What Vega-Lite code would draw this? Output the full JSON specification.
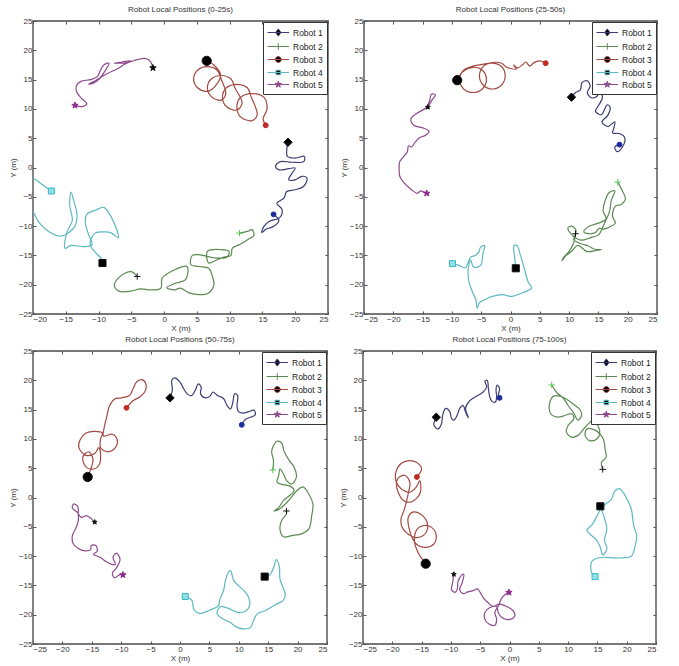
{
"$schema": "https://vega.github.io/schema/vega-lite/v6.json",
"padding": {"left": 8, "top": 5, "right": 2, "bottom": 0},
"datasets": {
"paths": [
{"p":1,"r":1,"i":1,"x":16.7,"y":-8.0},{"p":1,"r":1,"i":2,"x":17.5,"y":-9.0},{"p":1,"r":1,"i":3,"x":16.8,"y":-10.0},{"p":1,"r":1,"i":4,"x":15.6,"y":-10.5},{"p":1,"r":1,"i":5,"x":14.9,"y":-11.1},{"p":1,"r":1,"i":6,"x":15.2,"y":-10.1},{"p":1,"r":1,"i":7,"x":16.0,"y":-9.2},{"p":1,"r":1,"i":8,"x":17.6,"y":-8.6},{"p":1,"r":1,"i":9,"x":18.0,"y":-7.2},{"p":1,"r":1,"i":10,"x":17.2,"y":-6.1},{"p":1,"r":1,"i":11,"x":18.3,"y":-5.2},{"p":1,"r":1,"i":12,"x":18.7,"y":-4.1},{"p":1,"r":1,"i":13,"x":20.0,"y":-3.8},{"p":1,"r":1,"i":14,"x":21.3,"y":-3.2},{"p":1,"r":1,"i":15,"x":21.8,"y":-1.8},{"p":1,"r":1,"i":16,"x":21.0,"y":-1.5},{"p":1,"r":1,"i":17,"x":20.0,"y":-2.1},{"p":1,"r":1,"i":18,"x":19.0,"y":-2.1},{"p":1,"r":1,"i":19,"x":19.5,"y":-1.0},{"p":1,"r":1,"i":20,"x":20.0,"y":-0.1},{"p":1,"r":1,"i":21,"x":19.0,"y":-0.2},{"p":1,"r":1,"i":22,"x":17.5,"y":-0.4},{"p":1,"r":1,"i":23,"x":17.0,"y":0.2},{"p":1,"r":1,"i":24,"x":17.7,"y":1.0},{"p":1,"r":1,"i":25,"x":19.5,"y":0.9},{"p":1,"r":1,"i":26,"x":21.3,"y":1.0},{"p":1,"r":1,"i":27,"x":21.4,"y":1.9},{"p":1,"r":1,"i":28,"x":20.0,"y":1.6},{"p":1,"r":1,"i":29,"x":18.8,"y":1.9},{"p":1,"r":1,"i":30,"x":18.7,"y":3.0},{"p":1,"r":1,"i":31,"x":18.9,"y":4.3},
{"p":1,"r":2,"i":1,"x":11.5,"y":-11.2},{"p":1,"r":2,"i":2,"x":12.7,"y":-10.9},{"p":1,"r":2,"i":3,"x":13.4,"y":-10.6},{"p":1,"r":2,"i":4,"x":13.7,"y":-11.6},{"p":1,"r":2,"i":5,"x":12.9,"y":-12.2},{"p":1,"r":2,"i":6,"x":11.6,"y":-13.1},{"p":1,"r":2,"i":7,"x":10.4,"y":-13.8},{"p":1,"r":2,"i":8,"x":10.2,"y":-15.0},{"p":1,"r":2,"i":9,"x":9.1,"y":-15.3},{"p":1,"r":2,"i":10,"x":7.6,"y":-16.0},{"p":1,"r":2,"i":11,"x":6.8,"y":-16.3},{"p":1,"r":2,"i":12,"x":6.6,"y":-14.3},{"p":1,"r":2,"i":13,"x":8.6,"y":-14.0},{"p":1,"r":2,"i":14,"x":9.9,"y":-14.3},{"p":1,"r":2,"i":15,"x":9.6,"y":-15.3},{"p":1,"r":2,"i":16,"x":7.5,"y":-15.4},{"p":1,"r":2,"i":17,"x":5.5,"y":-14.9},{"p":1,"r":2,"i":18,"x":4.3,"y":-15.0},{"p":1,"r":2,"i":19,"x":4.1,"y":-16.6},{"p":1,"r":2,"i":20,"x":5.3,"y":-16.9},{"p":1,"r":2,"i":21,"x":6.8,"y":-17.2},{"p":1,"r":2,"i":22,"x":7.3,"y":-18.3},{"p":1,"r":2,"i":23,"x":7.6,"y":-20.0},{"p":1,"r":2,"i":24,"x":6.8,"y":-21.4},{"p":1,"r":2,"i":25,"x":5.3,"y":-21.7},{"p":1,"r":2,"i":26,"x":3.8,"y":-21.4},{"p":1,"r":2,"i":27,"x":2.5,"y":-20.6},{"p":1,"r":2,"i":28,"x":1.5,"y":-20.9},{"p":1,"r":2,"i":29,"x":0.4,"y":-20.5},{"p":1,"r":2,"i":30,"x":1.6,"y":-19.8},{"p":1,"r":2,"i":31,"x":3.3,"y":-19.1},{"p":1,"r":2,"i":32,"x":3.5,"y":-16.9},{"p":1,"r":2,"i":33,"x":1.7,"y":-17.4},{"p":1,"r":2,"i":34,"x":-0.3,"y":-18.9},{"p":1,"r":2,"i":35,"x":-0.5,"y":-20.6},{"p":1,"r":2,"i":36,"x":-2.1,"y":-20.9},{"p":1,"r":2,"i":37,"x":-3.6,"y":-20.7},{"p":1,"r":2,"i":38,"x":-5.1,"y":-21.1},{"p":1,"r":2,"i":39,"x":-6.9,"y":-21.1},{"p":1,"r":2,"i":40,"x":-7.6,"y":-20.1},{"p":1,"r":2,"i":41,"x":-7.1,"y":-19.0},{"p":1,"r":2,"i":42,"x":-5.9,"y":-18.0},{"p":1,"r":2,"i":43,"x":-4.9,"y":-17.8},{"p":1,"r":2,"i":44,"x":-4.1,"y":-18.6},
{"p":1,"r":3,"i":1,"x":15.5,"y":7.2},{"p":1,"r":3,"i":2,"x":15.1,"y":8.3},{"p":1,"r":3,"i":3,"x":15.7,"y":10.0},{"p":1,"r":3,"i":4,"x":15.2,"y":12.0},{"p":1,"r":3,"i":5,"x":13.4,"y":12.6},{"p":1,"r":3,"i":6,"x":11.6,"y":11.9},{"p":1,"r":3,"i":7,"x":11.1,"y":10.3},{"p":1,"r":3,"i":8,"x":11.7,"y":8.6},{"p":1,"r":3,"i":9,"x":13.4,"y":8.0},{"p":1,"r":3,"i":10,"x":14.2,"y":9.0},{"p":1,"r":3,"i":11,"x":13.3,"y":12.0},{"p":1,"r":3,"i":12,"x":12.7,"y":13.6},{"p":1,"r":3,"i":13,"x":11.1,"y":14.2},{"p":1,"r":3,"i":14,"x":9.5,"y":13.6},{"p":1,"r":3,"i":15,"x":8.9,"y":12.0},{"p":1,"r":3,"i":16,"x":9.5,"y":10.4},{"p":1,"r":3,"i":17,"x":11.1,"y":9.8},{"p":1,"r":3,"i":18,"x":11.9,"y":11.0},{"p":1,"r":3,"i":19,"x":10.8,"y":13.6},{"p":1,"r":3,"i":20,"x":10.2,"y":15.1},{"p":1,"r":3,"i":21,"x":8.7,"y":15.7},{"p":1,"r":3,"i":22,"x":7.2,"y":15.1},{"p":1,"r":3,"i":23,"x":6.6,"y":13.6},{"p":1,"r":3,"i":24,"x":7.2,"y":12.1},{"p":1,"r":3,"i":25,"x":8.7,"y":11.5},{"p":1,"r":3,"i":26,"x":9.4,"y":12.6},{"p":1,"r":3,"i":27,"x":8.7,"y":15.1},{"p":1,"r":3,"i":28,"x":8.1,"y":16.6},{"p":1,"r":3,"i":29,"x":6.6,"y":17.2},{"p":1,"r":3,"i":30,"x":5.1,"y":16.6},{"p":1,"r":3,"i":31,"x":4.5,"y":15.1},{"p":1,"r":3,"i":32,"x":5.1,"y":13.6},{"p":1,"r":3,"i":33,"x":6.6,"y":13.0},{"p":1,"r":3,"i":34,"x":7.8,"y":13.9},{"p":1,"r":3,"i":35,"x":8.6,"y":15.8},{"p":1,"r":3,"i":36,"x":7.6,"y":17.5},{"p":1,"r":3,"i":37,"x":6.5,"y":18.2},
{"p":1,"r":4,"i":1,"x":-17.2,"y":-4.0},{"p":1,"r":4,"i":2,"x":-18.5,"y":-3.0},{"p":1,"r":4,"i":3,"x":-19.6,"y":-2.1},{"p":1,"r":4,"i":4,"x":-21.0,"y":-1.5},{"p":1,"r":4,"i":5,"x":-21.5,"y":-5.0},{"p":1,"r":4,"i":6,"x":-20.0,"y":-7.5},{"p":1,"r":4,"i":7,"x":-19.0,"y":-9.5},{"p":1,"r":4,"i":8,"x":-17.5,"y":-11.0},{"p":1,"r":4,"i":9,"x":-15.8,"y":-11.7},{"p":1,"r":4,"i":10,"x":-14.8,"y":-11.3},{"p":1,"r":4,"i":11,"x":-13.6,"y":-10.0},{"p":1,"r":4,"i":12,"x":-13.3,"y":-8.0},{"p":1,"r":4,"i":13,"x":-13.7,"y":-6.0},{"p":1,"r":4,"i":14,"x":-14.2,"y":-4.2},{"p":1,"r":4,"i":15,"x":-14.4,"y":-6.5},{"p":1,"r":4,"i":16,"x":-14.0,"y":-9.0},{"p":1,"r":4,"i":17,"x":-14.8,"y":-11.0},{"p":1,"r":4,"i":18,"x":-15.1,"y":-13.8},{"p":1,"r":4,"i":19,"x":-14.2,"y":-13.3},{"p":1,"r":4,"i":20,"x":-12.3,"y":-13.5},{"p":1,"r":4,"i":21,"x":-11.0,"y":-13.2},{"p":1,"r":4,"i":22,"x":-11.5,"y":-11.5},{"p":1,"r":4,"i":23,"x":-12.0,"y":-9.5},{"p":1,"r":4,"i":24,"x":-11.8,"y":-8.0},{"p":1,"r":4,"i":25,"x":-10.5,"y":-7.3},{"p":1,"r":4,"i":26,"x":-9.2,"y":-6.8},{"p":1,"r":4,"i":27,"x":-8.3,"y":-8.0},{"p":1,"r":4,"i":28,"x":-7.5,"y":-9.8},{"p":1,"r":4,"i":29,"x":-7.1,"y":-11.0},{"p":1,"r":4,"i":30,"x":-7.0,"y":-12.0},{"p":1,"r":4,"i":31,"x":-8.0,"y":-11.2},{"p":1,"r":4,"i":32,"x":-9.0,"y":-11.0},{"p":1,"r":4,"i":33,"x":-10.5,"y":-11.2},{"p":1,"r":4,"i":34,"x":-11.3,"y":-13.0},{"p":1,"r":4,"i":35,"x":-10.5,"y":-14.5},{"p":1,"r":4,"i":36,"x":-9.6,"y":-15.5},{"p":1,"r":4,"i":37,"x":-9.4,"y":-16.3},
{"p":1,"r":5,"i":1,"x":-13.6,"y":10.6},{"p":1,"r":5,"i":2,"x":-12.5,"y":10.4},{"p":1,"r":5,"i":3,"x":-11.8,"y":10.9},{"p":1,"r":5,"i":4,"x":-12.6,"y":11.8},{"p":1,"r":5,"i":5,"x":-13.3,"y":12.8},{"p":1,"r":5,"i":6,"x":-13.4,"y":13.9},{"p":1,"r":5,"i":7,"x":-12.7,"y":14.7},{"p":1,"r":5,"i":8,"x":-11.2,"y":15.0},{"p":1,"r":5,"i":9,"x":-10.2,"y":15.5},{"p":1,"r":5,"i":10,"x":-9.7,"y":16.6},{"p":1,"r":5,"i":11,"x":-9.2,"y":17.5},{"p":1,"r":5,"i":12,"x":-8.4,"y":17.8},{"p":1,"r":5,"i":13,"x":-9.0,"y":16.5},{"p":1,"r":5,"i":14,"x":-10.0,"y":15.0},{"p":1,"r":5,"i":15,"x":-10.8,"y":14.4},{"p":1,"r":5,"i":16,"x":-11.5,"y":14.2},{"p":1,"r":5,"i":17,"x":-10.5,"y":14.8},{"p":1,"r":5,"i":18,"x":-8.7,"y":16.0},{"p":1,"r":5,"i":19,"x":-7.2,"y":16.8},{"p":1,"r":5,"i":20,"x":-6.2,"y":17.5},{"p":1,"r":5,"i":21,"x":-5.1,"y":18.2},{"p":1,"r":5,"i":22,"x":-6.4,"y":18.0},{"p":1,"r":5,"i":23,"x":-7.6,"y":17.8},{"p":1,"r":5,"i":24,"x":-5.6,"y":17.9},{"p":1,"r":5,"i":25,"x":-4.1,"y":18.4},{"p":1,"r":5,"i":26,"x":-2.8,"y":18.6},{"p":1,"r":5,"i":27,"x":-2.1,"y":18.1},{"p":1,"r":5,"i":28,"x":-1.7,"y":17.0},
{"p":2,"r":1,"i":1,"x":18.6,"y":3.9},{"p":2,"r":1,"i":2,"x":17.8,"y":3.5},{"p":2,"r":1,"i":3,"x":18.2,"y":2.7},{"p":2,"r":1,"i":4,"x":19.1,"y":3.5},{"p":2,"r":1,"i":5,"x":19.5,"y":5.1},{"p":2,"r":1,"i":6,"x":18.6,"y":5.8},{"p":2,"r":1,"i":7,"x":17.4,"y":5.9},{"p":2,"r":1,"i":8,"x":17.6,"y":6.6},{"p":2,"r":1,"i":9,"x":17.8,"y":7.8},{"p":2,"r":1,"i":10,"x":16.6,"y":7.0},{"p":2,"r":1,"i":11,"x":15.6,"y":7.8},{"p":2,"r":1,"i":12,"x":16.6,"y":8.9},{"p":2,"r":1,"i":13,"x":17.0,"y":10.3},{"p":2,"r":1,"i":14,"x":16.5,"y":10.7},{"p":2,"r":1,"i":15,"x":15.5,"y":9.0},{"p":2,"r":1,"i":16,"x":14.5,"y":9.6},{"p":2,"r":1,"i":17,"x":15.1,"y":10.7},{"p":2,"r":1,"i":18,"x":15.7,"y":12.0},{"p":2,"r":1,"i":19,"x":15.1,"y":13.2},{"p":2,"r":1,"i":20,"x":14.8,"y":12.2},{"p":2,"r":1,"i":21,"x":13.8,"y":11.9},{"p":2,"r":1,"i":22,"x":13.1,"y":12.8},{"p":2,"r":1,"i":23,"x":13.6,"y":13.9},{"p":2,"r":1,"i":24,"x":13.1,"y":14.8},{"p":2,"r":1,"i":25,"x":12.2,"y":14.5},{"p":2,"r":1,"i":26,"x":11.9,"y":13.2},{"p":2,"r":1,"i":27,"x":11.1,"y":12.8},{"p":2,"r":1,"i":28,"x":10.4,"y":12.0},
{"p":2,"r":2,"i":1,"x":18.3,"y":-2.5},{"p":2,"r":2,"i":2,"x":19.0,"y":-3.8},{"p":2,"r":2,"i":3,"x":19.6,"y":-5.4},{"p":2,"r":2,"i":4,"x":18.9,"y":-6.3},{"p":2,"r":2,"i":5,"x":17.9,"y":-6.6},{"p":2,"r":2,"i":6,"x":17.4,"y":-8.3},{"p":2,"r":2,"i":7,"x":17.9,"y":-9.5},{"p":2,"r":2,"i":8,"x":17.0,"y":-10.1},{"p":2,"r":2,"i":9,"x":15.9,"y":-10.5},{"p":2,"r":2,"i":10,"x":15.1,"y":-10.4},{"p":2,"r":2,"i":11,"x":14.5,"y":-11.1},{"p":2,"r":2,"i":12,"x":13.4,"y":-11.3},{"p":2,"r":2,"i":13,"x":12.5,"y":-11.0},{"p":2,"r":2,"i":14,"x":13.5,"y":-10.0},{"p":2,"r":2,"i":15,"x":15.0,"y":-9.5},{"p":2,"r":2,"i":16,"x":16.3,"y":-8.8},{"p":2,"r":2,"i":17,"x":15.8,"y":-7.4},{"p":2,"r":2,"i":18,"x":16.1,"y":-5.8},{"p":2,"r":2,"i":19,"x":16.8,"y":-4.3},{"p":2,"r":2,"i":20,"x":17.8,"y":-4.0},{"p":2,"r":2,"i":21,"x":17.2,"y":-5.6},{"p":2,"r":2,"i":22,"x":16.9,"y":-7.5},{"p":2,"r":2,"i":23,"x":16.0,"y":-9.6},{"p":2,"r":2,"i":24,"x":15.0,"y":-11.5},{"p":2,"r":2,"i":25,"x":13.6,"y":-12.0},{"p":2,"r":2,"i":26,"x":12.0,"y":-12.4},{"p":2,"r":2,"i":27,"x":10.5,"y":-11.5},{"p":2,"r":2,"i":28,"x":9.8,"y":-10.3},{"p":2,"r":2,"i":29,"x":10.5,"y":-10.0},{"p":2,"r":2,"i":30,"x":11.2,"y":-10.8},{"p":2,"r":2,"i":31,"x":10.8,"y":-12.3},{"p":2,"r":2,"i":32,"x":12.0,"y":-13.0},{"p":2,"r":2,"i":33,"x":13.3,"y":-13.4},{"p":2,"r":2,"i":34,"x":14.5,"y":-14.0},{"p":2,"r":2,"i":35,"x":15.5,"y":-14.0},{"p":2,"r":2,"i":36,"x":14.5,"y":-14.2},{"p":2,"r":2,"i":37,"x":13.0,"y":-14.3},{"p":2,"r":2,"i":38,"x":11.5,"y":-13.3},{"p":2,"r":2,"i":39,"x":10.5,"y":-14.2},{"p":2,"r":2,"i":40,"x":9.3,"y":-15.2},{"p":2,"r":2,"i":41,"x":8.8,"y":-15.9},{"p":2,"r":2,"i":42,"x":9.0,"y":-15.4},{"p":2,"r":2,"i":43,"x":10.0,"y":-14.3},{"p":2,"r":2,"i":44,"x":10.8,"y":-12.8},{"p":2,"r":2,"i":45,"x":11.1,"y":-11.3},
{"p":2,"r":3,"i":1,"x":6.0,"y":17.8},{"p":2,"r":3,"i":2,"x":5.0,"y":18.2},{"p":2,"r":3,"i":3,"x":4.0,"y":17.9},{"p":2,"r":3,"i":4,"x":3.3,"y":17.3},{"p":2,"r":3,"i":5,"x":2.6,"y":18.0},{"p":2,"r":3,"i":6,"x":2.0,"y":17.5},{"p":2,"r":3,"i":7,"x":1.2,"y":17.0},{"p":2,"r":3,"i":8,"x":0.5,"y":17.5},{"p":2,"r":3,"i":9,"x":1.0,"y":16.8},{"p":2,"r":3,"i":10,"x":0.0,"y":16.9},{"p":2,"r":3,"i":11,"x":-0.8,"y":17.2},{"p":2,"r":3,"i":12,"x":-1.5,"y":17.8},{"p":2,"r":3,"i":13,"x":-3.1,"y":17.9},{"p":2,"r":3,"i":14,"x":-4.6,"y":17.3},{"p":2,"r":3,"i":15,"x":-5.3,"y":15.6},{"p":2,"r":3,"i":16,"x":-4.6,"y":14.0},{"p":2,"r":3,"i":17,"x":-3.1,"y":13.4},{"p":2,"r":3,"i":18,"x":-1.6,"y":14.0},{"p":2,"r":3,"i":19,"x":-0.9,"y":15.6},{"p":2,"r":3,"i":20,"x":-1.5,"y":17.2},{"p":2,"r":3,"i":21,"x":-3.0,"y":17.8},{"p":2,"r":3,"i":22,"x":-4.8,"y":17.6},{"p":2,"r":3,"i":23,"x":-6.4,"y":17.3},{"p":2,"r":3,"i":24,"x":-8.0,"y":16.6},{"p":2,"r":3,"i":25,"x":-8.7,"y":15.0},{"p":2,"r":3,"i":26,"x":-8.0,"y":13.4},{"p":2,"r":3,"i":27,"x":-6.4,"y":12.8},{"p":2,"r":3,"i":28,"x":-4.8,"y":13.4},{"p":2,"r":3,"i":29,"x":-4.1,"y":15.0},{"p":2,"r":3,"i":30,"x":-4.8,"y":16.6},{"p":2,"r":3,"i":31,"x":-6.4,"y":17.1},{"p":2,"r":3,"i":32,"x":-8.2,"y":16.3},{"p":2,"r":3,"i":33,"x":-9.1,"y":14.9},
{"p":2,"r":4,"i":1,"x":-9.9,"y":-16.4},{"p":2,"r":4,"i":2,"x":-8.8,"y":-16.7},{"p":2,"r":4,"i":3,"x":-7.7,"y":-17.1},{"p":2,"r":4,"i":4,"x":-7.2,"y":-16.1},{"p":2,"r":4,"i":5,"x":-6.8,"y":-15.3},{"p":2,"r":4,"i":6,"x":-6.0,"y":-15.0},{"p":2,"r":4,"i":7,"x":-5.4,"y":-14.4},{"p":2,"r":4,"i":8,"x":-5.1,"y":-13.6},{"p":2,"r":4,"i":9,"x":-4.4,"y":-13.3},{"p":2,"r":4,"i":10,"x":-4.7,"y":-14.7},{"p":2,"r":4,"i":11,"x":-5.1,"y":-16.7},{"p":2,"r":4,"i":12,"x":-6.3,"y":-17.0},{"p":2,"r":4,"i":13,"x":-6.8,"y":-15.8},{"p":2,"r":4,"i":14,"x":-7.2,"y":-17.2},{"p":2,"r":4,"i":15,"x":-7.1,"y":-19.5},{"p":2,"r":4,"i":16,"x":-6.5,"y":-21.2},{"p":2,"r":4,"i":17,"x":-5.9,"y":-22.6},{"p":2,"r":4,"i":18,"x":-5.7,"y":-24.0},{"p":2,"r":4,"i":19,"x":-5.3,"y":-23.1},{"p":2,"r":4,"i":20,"x":-4.5,"y":-22.6},{"p":2,"r":4,"i":21,"x":-3.1,"y":-22.0},{"p":2,"r":4,"i":22,"x":-1.4,"y":-21.7},{"p":2,"r":4,"i":23,"x":0.3,"y":-22.0},{"p":2,"r":4,"i":24,"x":1.7,"y":-21.5},{"p":2,"r":4,"i":25,"x":2.8,"y":-21.1},{"p":2,"r":4,"i":26,"x":3.6,"y":-20.6},{"p":2,"r":4,"i":27,"x":3.0,"y":-19.5},{"p":2,"r":4,"i":28,"x":2.3,"y":-17.0},{"p":2,"r":4,"i":29,"x":1.7,"y":-15.0},{"p":2,"r":4,"i":30,"x":1.1,"y":-13.3},{"p":2,"r":4,"i":31,"x":0.6,"y":-13.3},{"p":2,"r":4,"i":32,"x":0.7,"y":-15.3},{"p":2,"r":4,"i":33,"x":0.9,"y":-17.2},
{"p":2,"r":5,"i":1,"x":-14.1,"y":10.3},{"p":2,"r":5,"i":2,"x":-13.4,"y":11.5},{"p":2,"r":5,"i":3,"x":-12.8,"y":12.4},{"p":2,"r":5,"i":4,"x":-13.5,"y":12.5},{"p":2,"r":5,"i":5,"x":-13.8,"y":11.4},{"p":2,"r":5,"i":6,"x":-14.4,"y":10.2},{"p":2,"r":5,"i":7,"x":-15.9,"y":9.3},{"p":2,"r":5,"i":8,"x":-17.0,"y":8.3},{"p":2,"r":5,"i":9,"x":-16.5,"y":7.2},{"p":2,"r":5,"i":10,"x":-15.1,"y":6.8},{"p":2,"r":5,"i":11,"x":-13.9,"y":6.2},{"p":2,"r":5,"i":12,"x":-14.5,"y":5.5},{"p":2,"r":5,"i":13,"x":-15.5,"y":5.1},{"p":2,"r":5,"i":14,"x":-16.2,"y":4.4},{"p":2,"r":5,"i":15,"x":-16.9,"y":3.5},{"p":2,"r":5,"i":16,"x":-17.4,"y":3.7},{"p":2,"r":5,"i":17,"x":-17.6,"y":2.7},{"p":2,"r":5,"i":18,"x":-18.2,"y":1.9},{"p":2,"r":5,"i":19,"x":-18.9,"y":1.0},{"p":2,"r":5,"i":20,"x":-19.0,"y":-0.1},{"p":2,"r":5,"i":21,"x":-18.9,"y":-1.5},{"p":2,"r":5,"i":22,"x":-18.2,"y":-2.6},{"p":2,"r":5,"i":23,"x":-17.0,"y":-3.7},{"p":2,"r":5,"i":24,"x":-15.9,"y":-4.4},{"p":2,"r":5,"i":25,"x":-15.3,"y":-4.0},{"p":2,"r":5,"i":26,"x":-14.8,"y":-4.2},{"p":2,"r":5,"i":27,"x":-14.3,"y":-4.4},
{"p":3,"r":1,"i":1,"x":-1.7,"y":17.0},{"p":3,"r":1,"i":2,"x":-1.3,"y":18.3},{"p":3,"r":1,"i":3,"x":-1.4,"y":20.0},{"p":3,"r":1,"i":4,"x":-0.9,"y":20.4},{"p":3,"r":1,"i":5,"x":0.0,"y":19.7},{"p":3,"r":1,"i":6,"x":0.6,"y":18.6},{"p":3,"r":1,"i":7,"x":1.3,"y":17.6},{"p":3,"r":1,"i":8,"x":2.0,"y":17.4},{"p":3,"r":1,"i":9,"x":2.6,"y":18.3},{"p":3,"r":1,"i":10,"x":3.1,"y":19.4},{"p":3,"r":1,"i":11,"x":3.6,"y":18.8},{"p":3,"r":1,"i":12,"x":3.5,"y":17.7},{"p":3,"r":1,"i":13,"x":4.3,"y":17.0},{"p":3,"r":1,"i":14,"x":5.1,"y":17.3},{"p":3,"r":1,"i":15,"x":5.6,"y":18.0},{"p":3,"r":1,"i":16,"x":6.4,"y":17.4},{"p":3,"r":1,"i":17,"x":7.4,"y":16.9},{"p":3,"r":1,"i":18,"x":8.0,"y":15.7},{"p":3,"r":1,"i":19,"x":8.6,"y":15.1},{"p":3,"r":1,"i":20,"x":9.0,"y":16.3},{"p":3,"r":1,"i":21,"x":9.3,"y":17.7},{"p":3,"r":1,"i":22,"x":9.8,"y":17.4},{"p":3,"r":1,"i":23,"x":9.7,"y":15.7},{"p":3,"r":1,"i":24,"x":9.9,"y":14.7},{"p":3,"r":1,"i":25,"x":10.7,"y":14.4},{"p":3,"r":1,"i":26,"x":11.6,"y":14.6},{"p":3,"r":1,"i":27,"x":12.6,"y":14.9},{"p":3,"r":1,"i":28,"x":12.8,"y":14.1},{"p":3,"r":1,"i":29,"x":12.0,"y":13.7},{"p":3,"r":1,"i":30,"x":11.1,"y":13.3},{"p":3,"r":1,"i":31,"x":10.5,"y":12.4},
{"p":3,"r":2,"i":1,"x":15.8,"y":4.7},{"p":3,"r":2,"i":2,"x":15.9,"y":6.3},{"p":3,"r":2,"i":3,"x":15.6,"y":8.0},{"p":3,"r":2,"i":4,"x":16.5,"y":9.6},{"p":3,"r":2,"i":5,"x":17.3,"y":9.3},{"p":3,"r":2,"i":6,"x":17.7,"y":7.9},{"p":3,"r":2,"i":7,"x":18.6,"y":6.3},{"p":3,"r":2,"i":8,"x":19.4,"y":5.2},{"p":3,"r":2,"i":9,"x":19.8,"y":3.5},{"p":3,"r":2,"i":10,"x":19.0,"y":2.3},{"p":3,"r":2,"i":11,"x":18.2,"y":2.8},{"p":3,"r":2,"i":12,"x":17.6,"y":4.0},{"p":3,"r":2,"i":13,"x":17.0,"y":4.9},{"p":3,"r":2,"i":14,"x":16.8,"y":3.8},{"p":3,"r":2,"i":15,"x":16.5,"y":2.6},{"p":3,"r":2,"i":16,"x":17.5,"y":2.2},{"p":3,"r":2,"i":17,"x":18.8,"y":1.9},{"p":3,"r":2,"i":18,"x":19.4,"y":1.2},{"p":3,"r":2,"i":19,"x":18.6,"y":0.3},{"p":3,"r":2,"i":20,"x":17.6,"y":-0.5},{"p":3,"r":2,"i":21,"x":16.8,"y":-1.7},{"p":3,"r":2,"i":22,"x":16.0,"y":-2.3},{"p":3,"r":2,"i":23,"x":17.0,"y":-1.9},{"p":3,"r":2,"i":24,"x":18.5,"y":-0.5},{"p":3,"r":2,"i":25,"x":19.9,"y":1.2},{"p":3,"r":2,"i":26,"x":20.9,"y":1.8},{"p":3,"r":2,"i":27,"x":21.9,"y":0.6},{"p":3,"r":2,"i":28,"x":22.6,"y":-1.1},{"p":3,"r":2,"i":29,"x":22.4,"y":-3.1},{"p":3,"r":2,"i":30,"x":21.9,"y":-5.4},{"p":3,"r":2,"i":31,"x":20.7,"y":-6.2},{"p":3,"r":2,"i":32,"x":19.0,"y":-6.5},{"p":3,"r":2,"i":33,"x":17.6,"y":-6.7},{"p":3,"r":2,"i":34,"x":17.0,"y":-5.4},{"p":3,"r":2,"i":35,"x":17.3,"y":-3.9},{"p":3,"r":2,"i":36,"x":18.1,"y":-2.8},{"p":3,"r":2,"i":37,"x":18.1,"y":-2.3},
{"p":3,"r":3,"i":1,"x":-9.1,"y":15.3},{"p":3,"r":3,"i":2,"x":-8.0,"y":16.5},{"p":3,"r":3,"i":3,"x":-6.8,"y":17.2},{"p":3,"r":3,"i":4,"x":-6.0,"y":18.0},{"p":3,"r":3,"i":5,"x":-5.8,"y":19.4},{"p":3,"r":3,"i":6,"x":-6.5,"y":20.1},{"p":3,"r":3,"i":7,"x":-7.4,"y":19.7},{"p":3,"r":3,"i":8,"x":-8.0,"y":18.5},{"p":3,"r":3,"i":9,"x":-8.6,"y":17.4},{"p":3,"r":3,"i":10,"x":-10.0,"y":17.0},{"p":3,"r":3,"i":11,"x":-11.1,"y":16.8},{"p":3,"r":3,"i":12,"x":-12.0,"y":15.6},{"p":3,"r":3,"i":13,"x":-12.5,"y":13.6},{"p":3,"r":3,"i":14,"x":-12.9,"y":11.9},{"p":3,"r":3,"i":15,"x":-13.0,"y":10.5},{"p":3,"r":3,"i":16,"x":-11.5,"y":10.8},{"p":3,"r":3,"i":17,"x":-10.7,"y":9.9},{"p":3,"r":3,"i":18,"x":-11.0,"y":8.5},{"p":3,"r":3,"i":19,"x":-12.3,"y":7.8},{"p":3,"r":3,"i":20,"x":-13.5,"y":8.5},{"p":3,"r":3,"i":21,"x":-13.5,"y":10.0},{"p":3,"r":3,"i":22,"x":-13.2,"y":11.0},{"p":3,"r":3,"i":23,"x":-14.5,"y":11.3},{"p":3,"r":3,"i":24,"x":-16.0,"y":11.0},{"p":3,"r":3,"i":25,"x":-17.0,"y":9.8},{"p":3,"r":3,"i":26,"x":-17.2,"y":8.5},{"p":3,"r":3,"i":27,"x":-16.0,"y":7.2},{"p":3,"r":3,"i":28,"x":-14.5,"y":7.5},{"p":3,"r":3,"i":29,"x":-13.8,"y":8.5},{"p":3,"r":3,"i":30,"x":-13.5,"y":7.0},{"p":3,"r":3,"i":31,"x":-13.8,"y":5.5},{"p":3,"r":3,"i":32,"x":-15.0,"y":4.8},{"p":3,"r":3,"i":33,"x":-16.2,"y":5.5},{"p":3,"r":3,"i":34,"x":-16.5,"y":7.0},{"p":3,"r":3,"i":35,"x":-15.5,"y":7.8},{"p":3,"r":3,"i":36,"x":-14.8,"y":6.5},{"p":3,"r":3,"i":37,"x":-15.3,"y":4.5},{"p":3,"r":3,"i":38,"x":-15.7,"y":3.5},
{"p":3,"r":4,"i":1,"x":0.9,"y":-16.9},{"p":3,"r":4,"i":2,"x":2.0,"y":-17.5},{"p":3,"r":4,"i":3,"x":2.4,"y":-19.2},{"p":3,"r":4,"i":4,"x":3.4,"y":-19.8},{"p":3,"r":4,"i":5,"x":5.1,"y":-19.2},{"p":3,"r":4,"i":6,"x":6.5,"y":-18.5},{"p":3,"r":4,"i":7,"x":6.8,"y":-17.3},{"p":3,"r":4,"i":8,"x":7.4,"y":-15.9},{"p":3,"r":4,"i":9,"x":7.7,"y":-14.3},{"p":3,"r":4,"i":10,"x":8.2,"y":-12.8},{"p":3,"r":4,"i":11,"x":8.6,"y":-12.5},{"p":3,"r":4,"i":12,"x":9.1,"y":-14.1},{"p":3,"r":4,"i":13,"x":9.9,"y":-15.0},{"p":3,"r":4,"i":14,"x":10.9,"y":-15.9},{"p":3,"r":4,"i":15,"x":11.7,"y":-17.1},{"p":3,"r":4,"i":16,"x":11.8,"y":-18.6},{"p":3,"r":4,"i":17,"x":11.1,"y":-19.4},{"p":3,"r":4,"i":18,"x":9.8,"y":-19.6},{"p":3,"r":4,"i":19,"x":8.4,"y":-19.0},{"p":3,"r":4,"i":20,"x":6.9,"y":-18.6},{"p":3,"r":4,"i":21,"x":6.3,"y":-19.8},{"p":3,"r":4,"i":22,"x":7.1,"y":-20.6},{"p":3,"r":4,"i":23,"x":8.5,"y":-21.3},{"p":3,"r":4,"i":24,"x":9.8,"y":-22.2},{"p":3,"r":4,"i":25,"x":11.1,"y":-22.4},{"p":3,"r":4,"i":26,"x":12.0,"y":-22.2},{"p":3,"r":4,"i":27,"x":12.5,"y":-21.0},{"p":3,"r":4,"i":28,"x":13.1,"y":-19.9},{"p":3,"r":4,"i":29,"x":14.7,"y":-19.2},{"p":3,"r":4,"i":30,"x":16.2,"y":-18.3},{"p":3,"r":4,"i":31,"x":17.5,"y":-17.6},{"p":3,"r":4,"i":32,"x":17.9,"y":-16.5},{"p":3,"r":4,"i":33,"x":17.5,"y":-15.3},{"p":3,"r":4,"i":34,"x":17.0,"y":-13.9},{"p":3,"r":4,"i":35,"x":16.9,"y":-11.9},{"p":3,"r":4,"i":36,"x":16.4,"y":-10.6},{"p":3,"r":4,"i":37,"x":15.9,"y":-12.0},{"p":3,"r":4,"i":38,"x":15.3,"y":-13.2},{"p":3,"r":4,"i":39,"x":14.4,"y":-13.5},
{"p":3,"r":5,"i":1,"x":-14.5,"y":-4.2},{"p":3,"r":5,"i":2,"x":-15.1,"y":-3.6},{"p":3,"r":5,"i":3,"x":-15.9,"y":-3.1},{"p":3,"r":5,"i":4,"x":-16.8,"y":-3.4},{"p":3,"r":5,"i":5,"x":-17.5,"y":-2.5},{"p":3,"r":5,"i":6,"x":-18.3,"y":-1.8},{"p":3,"r":5,"i":7,"x":-18.1,"y":-1.1},{"p":3,"r":5,"i":8,"x":-17.4,"y":-1.5},{"p":3,"r":5,"i":9,"x":-17.3,"y":-2.8},{"p":3,"r":5,"i":10,"x":-17.3,"y":-4.0},{"p":3,"r":5,"i":11,"x":-17.7,"y":-5.2},{"p":3,"r":5,"i":12,"x":-18.3,"y":-6.5},{"p":3,"r":5,"i":13,"x":-18.2,"y":-7.8},{"p":3,"r":5,"i":14,"x":-17.3,"y":-8.7},{"p":3,"r":5,"i":15,"x":-16.2,"y":-9.1},{"p":3,"r":5,"i":16,"x":-15.2,"y":-8.9},{"p":3,"r":5,"i":17,"x":-15.1,"y":-8.2},{"p":3,"r":5,"i":18,"x":-14.3,"y":-8.2},{"p":3,"r":5,"i":19,"x":-14.1,"y":-9.2},{"p":3,"r":5,"i":20,"x":-14.7,"y":-9.7},{"p":3,"r":5,"i":21,"x":-13.6,"y":-10.2},{"p":3,"r":5,"i":22,"x":-12.6,"y":-10.9},{"p":3,"r":5,"i":23,"x":-11.6,"y":-11.4},{"p":3,"r":5,"i":24,"x":-11.0,"y":-11.4},{"p":3,"r":5,"i":25,"x":-11.4,"y":-10.2},{"p":3,"r":5,"i":26,"x":-10.8,"y":-9.5},{"p":3,"r":5,"i":27,"x":-10.2,"y":-10.6},{"p":3,"r":5,"i":28,"x":-10.8,"y":-12.0},{"p":3,"r":5,"i":29,"x":-11.5,"y":-12.9},{"p":3,"r":5,"i":30,"x":-11.1,"y":-13.7},{"p":3,"r":5,"i":31,"x":-10.3,"y":-13.2},{"p":3,"r":5,"i":32,"x":-9.7,"y":-13.2},
{"p":4,"r":1,"i":1,"x":-12.5,"y":13.7},{"p":4,"r":1,"i":2,"x":-12.9,"y":12.4},{"p":4,"r":1,"i":3,"x":-12.2,"y":11.7},{"p":4,"r":1,"i":4,"x":-11.6,"y":12.6},{"p":4,"r":1,"i":5,"x":-11.4,"y":14.1},{"p":4,"r":1,"i":6,"x":-10.9,"y":15.2},{"p":4,"r":1,"i":7,"x":-10.2,"y":14.7},{"p":4,"r":1,"i":8,"x":-9.9,"y":13.5},{"p":4,"r":1,"i":9,"x":-9.5,"y":13.2},{"p":4,"r":1,"i":10,"x":-8.9,"y":14.1},{"p":4,"r":1,"i":11,"x":-8.5,"y":15.2},{"p":4,"r":1,"i":12,"x":-7.9,"y":15.7},{"p":4,"r":1,"i":13,"x":-7.6,"y":14.9},{"p":4,"r":1,"i":14,"x":-7.2,"y":13.9},{"p":4,"r":1,"i":15,"x":-7.0,"y":13.6},{"p":4,"r":1,"i":16,"x":-7.5,"y":15.2},{"p":4,"r":1,"i":17,"x":-6.8,"y":16.5},{"p":4,"r":1,"i":18,"x":-5.6,"y":17.3},{"p":4,"r":1,"i":19,"x":-4.5,"y":18.0},{"p":4,"r":1,"i":20,"x":-3.9,"y":18.9},{"p":4,"r":1,"i":21,"x":-4.2,"y":19.8},{"p":4,"r":1,"i":22,"x":-3.8,"y":20.0},{"p":4,"r":1,"i":23,"x":-3.6,"y":18.6},{"p":4,"r":1,"i":24,"x":-3.4,"y":17.3},{"p":4,"r":1,"i":25,"x":-3.0,"y":16.4},{"p":4,"r":1,"i":26,"x":-2.4,"y":16.3},{"p":4,"r":1,"i":27,"x":-2.2,"y":17.3},{"p":4,"r":1,"i":28,"x":-2.3,"y":18.3},{"p":4,"r":1,"i":29,"x":-2.1,"y":19.2},{"p":4,"r":1,"i":30,"x":-1.7,"y":18.6},{"p":4,"r":1,"i":31,"x":-1.9,"y":17.4},{"p":4,"r":1,"i":32,"x":-1.7,"y":17.0},
{"p":4,"r":2,"i":1,"x":7.2,"y":19.2},{"p":4,"r":2,"i":2,"x":8.0,"y":18.0},{"p":4,"r":2,"i":3,"x":9.2,"y":16.9},{"p":4,"r":2,"i":4,"x":10.0,"y":15.7},{"p":4,"r":2,"i":5,"x":10.9,"y":14.5},{"p":4,"r":2,"i":6,"x":11.7,"y":13.2},{"p":4,"r":2,"i":7,"x":12.3,"y":14.0},{"p":4,"r":2,"i":8,"x":12.1,"y":14.9},{"p":4,"r":2,"i":9,"x":11.2,"y":15.7},{"p":4,"r":2,"i":10,"x":10.0,"y":16.6},{"p":4,"r":2,"i":11,"x":8.9,"y":17.2},{"p":4,"r":2,"i":12,"x":7.5,"y":17.3},{"p":4,"r":2,"i":13,"x":6.9,"y":16.3},{"p":4,"r":2,"i":14,"x":6.8,"y":14.9},{"p":4,"r":2,"i":15,"x":7.2,"y":14.1},{"p":4,"r":2,"i":16,"x":8.3,"y":13.7},{"p":4,"r":2,"i":17,"x":9.5,"y":14.0},{"p":4,"r":2,"i":18,"x":10.6,"y":14.3},{"p":4,"r":2,"i":19,"x":11.0,"y":13.5},{"p":4,"r":2,"i":20,"x":10.0,"y":12.3},{"p":4,"r":2,"i":21,"x":9.7,"y":11.2},{"p":4,"r":2,"i":22,"x":10.6,"y":10.3},{"p":4,"r":2,"i":23,"x":11.7,"y":10.6},{"p":4,"r":2,"i":24,"x":12.5,"y":11.5},{"p":4,"r":2,"i":25,"x":13.2,"y":12.3},{"p":4,"r":2,"i":26,"x":14.3,"y":13.2},{"p":4,"r":2,"i":27,"x":15.1,"y":12.3},{"p":4,"r":2,"i":28,"x":15.4,"y":10.9},{"p":4,"r":2,"i":29,"x":14.9,"y":10.0},{"p":4,"r":2,"i":30,"x":13.7,"y":9.7},{"p":4,"r":2,"i":31,"x":12.9,"y":10.6},{"p":4,"r":2,"i":32,"x":13.2,"y":11.7},{"p":4,"r":2,"i":33,"x":14.6,"y":11.5},{"p":4,"r":2,"i":34,"x":16.0,"y":10.0},{"p":4,"r":2,"i":35,"x":16.3,"y":8.3},{"p":4,"r":2,"i":36,"x":16.5,"y":6.9},{"p":4,"r":2,"i":37,"x":15.7,"y":6.0},{"p":4,"r":2,"i":38,"x":15.9,"y":4.8},
{"p":4,"r":3,"i":1,"x":-15.8,"y":3.5},{"p":4,"r":3,"i":2,"x":-15.0,"y":4.9},{"p":4,"r":3,"i":3,"x":-15.9,"y":6.0},{"p":4,"r":3,"i":4,"x":-17.0,"y":6.3},{"p":4,"r":3,"i":5,"x":-18.5,"y":5.8},{"p":4,"r":3,"i":6,"x":-19.4,"y":4.3},{"p":4,"r":3,"i":7,"x":-19.3,"y":2.6},{"p":4,"r":3,"i":8,"x":-18.5,"y":1.5},{"p":4,"r":3,"i":9,"x":-17.0,"y":0.9},{"p":4,"r":3,"i":10,"x":-15.9,"y":1.8},{"p":4,"r":3,"i":11,"x":-15.3,"y":2.9},{"p":4,"r":3,"i":12,"x":-15.2,"y":0.9},{"p":4,"r":3,"i":13,"x":-15.9,"y":-0.2},{"p":4,"r":3,"i":14,"x":-17.0,"y":-0.8},{"p":4,"r":3,"i":15,"x":-18.1,"y":-0.5},{"p":4,"r":3,"i":16,"x":-19.0,"y":0.9},{"p":4,"r":3,"i":17,"x":-19.3,"y":2.2},{"p":4,"r":3,"i":18,"x":-19.0,"y":3.3},{"p":4,"r":3,"i":19,"x":-17.9,"y":3.8},{"p":4,"r":3,"i":20,"x":-17.0,"y":2.6},{"p":4,"r":3,"i":21,"x":-17.3,"y":0.6},{"p":4,"r":3,"i":22,"x":-17.6,"y":-0.8},{"p":4,"r":3,"i":23,"x":-18.0,"y":-2.2},{"p":4,"r":3,"i":24,"x":-18.5,"y":-3.6},{"p":4,"r":3,"i":25,"x":-18.4,"y":-4.9},{"p":4,"r":3,"i":26,"x":-17.6,"y":-6.0},{"p":4,"r":3,"i":27,"x":-16.2,"y":-6.8},{"p":4,"r":3,"i":28,"x":-14.7,"y":-6.5},{"p":4,"r":3,"i":29,"x":-14.0,"y":-5.4},{"p":4,"r":3,"i":30,"x":-14.2,"y":-3.9},{"p":4,"r":3,"i":31,"x":-15.2,"y":-2.8},{"p":4,"r":3,"i":32,"x":-16.5,"y":-2.5},{"p":4,"r":3,"i":33,"x":-17.3,"y":-3.5},{"p":4,"r":3,"i":34,"x":-17.1,"y":-5.4},{"p":4,"r":3,"i":35,"x":-16.5,"y":-7.1},{"p":4,"r":3,"i":36,"x":-15.6,"y":-8.2},{"p":4,"r":3,"i":37,"x":-14.2,"y":-8.5},{"p":4,"r":3,"i":38,"x":-12.9,"y":-7.9},{"p":4,"r":3,"i":39,"x":-12.5,"y":-6.5},{"p":4,"r":3,"i":40,"x":-13.3,"y":-5.1},{"p":4,"r":3,"i":41,"x":-14.7,"y":-4.8},{"p":4,"r":3,"i":42,"x":-15.9,"y":-5.6},{"p":4,"r":3,"i":43,"x":-16.2,"y":-7.6},{"p":4,"r":3,"i":44,"x":-15.6,"y":-9.4},{"p":4,"r":3,"i":45,"x":-14.9,"y":-10.5},{"p":4,"r":3,"i":46,"x":-14.3,"y":-11.3},
{"p":4,"r":4,"i":1,"x":14.6,"y":-13.5},{"p":4,"r":4,"i":2,"x":14.0,"y":-12.8},{"p":4,"r":4,"i":3,"x":14.0,"y":-11.0},{"p":4,"r":4,"i":4,"x":14.6,"y":-10.5},{"p":4,"r":4,"i":5,"x":16.0,"y":-10.2},{"p":4,"r":4,"i":6,"x":17.7,"y":-10.3},{"p":4,"r":4,"i":7,"x":19.3,"y":-10.3},{"p":4,"r":4,"i":8,"x":20.8,"y":-10.0},{"p":4,"r":4,"i":9,"x":21.4,"y":-8.4},{"p":4,"r":4,"i":10,"x":21.7,"y":-6.5},{"p":4,"r":4,"i":11,"x":21.2,"y":-4.8},{"p":4,"r":4,"i":12,"x":21.0,"y":-3.4},{"p":4,"r":4,"i":13,"x":20.8,"y":-2.0},{"p":4,"r":4,"i":14,"x":20.3,"y":-0.8},{"p":4,"r":4,"i":15,"x":19.5,"y":0.7},{"p":4,"r":4,"i":16,"x":18.7,"y":1.5},{"p":4,"r":4,"i":17,"x":17.9,"y":1.0},{"p":4,"r":4,"i":18,"x":17.4,"y":-0.3},{"p":4,"r":4,"i":19,"x":16.7,"y":-0.9},{"p":4,"r":4,"i":20,"x":15.8,"y":-1.6},{"p":4,"r":4,"i":21,"x":15.0,"y":-3.0},{"p":4,"r":4,"i":22,"x":14.2,"y":-4.5},{"p":4,"r":4,"i":23,"x":13.2,"y":-5.6},{"p":4,"r":4,"i":24,"x":13.8,"y":-6.3},{"p":4,"r":4,"i":25,"x":14.8,"y":-7.2},{"p":4,"r":4,"i":26,"x":15.5,"y":-8.5},{"p":4,"r":4,"i":27,"x":15.9,"y":-9.8},{"p":4,"r":4,"i":28,"x":16.6,"y":-8.8},{"p":4,"r":4,"i":29,"x":16.2,"y":-7.2},{"p":4,"r":4,"i":30,"x":16.6,"y":-5.5},{"p":4,"r":4,"i":31,"x":16.2,"y":-3.5},{"p":4,"r":4,"i":32,"x":15.5,"y":-1.5},
{"p":4,"r":5,"i":1,"x":-9.5,"y":-13.1},{"p":4,"r":5,"i":2,"x":-9.7,"y":-14.5},{"p":4,"r":5,"i":3,"x":-9.9,"y":-15.7},{"p":4,"r":5,"i":4,"x":-9.3,"y":-16.2},{"p":4,"r":5,"i":5,"x":-8.9,"y":-15.6},{"p":4,"r":5,"i":6,"x":-8.8,"y":-14.4},{"p":4,"r":5,"i":7,"x":-8.2,"y":-13.3},{"p":4,"r":5,"i":8,"x":-7.8,"y":-13.1},{"p":4,"r":5,"i":9,"x":-8.1,"y":-14.6},{"p":4,"r":5,"i":10,"x":-8.5,"y":-15.7},{"p":4,"r":5,"i":11,"x":-7.9,"y":-16.4},{"p":4,"r":5,"i":12,"x":-7.1,"y":-16.1},{"p":4,"r":5,"i":13,"x":-6.2,"y":-15.9},{"p":4,"r":5,"i":14,"x":-5.5,"y":-15.6},{"p":4,"r":5,"i":15,"x":-5.0,"y":-16.2},{"p":4,"r":5,"i":16,"x":-4.4,"y":-17.2},{"p":4,"r":5,"i":17,"x":-3.6,"y":-18.0},{"p":4,"r":5,"i":18,"x":-2.8,"y":-18.6},{"p":4,"r":5,"i":19,"x":-1.8,"y":-18.2},{"p":4,"r":5,"i":20,"x":-0.5,"y":-18.6},{"p":4,"r":5,"i":21,"x":0.6,"y":-19.3},{"p":4,"r":5,"i":22,"x":0.9,"y":-20.2},{"p":4,"r":5,"i":23,"x":0.1,"y":-20.8},{"p":4,"r":5,"i":24,"x":-1.1,"y":-20.6},{"p":4,"r":5,"i":25,"x":-1.9,"y":-19.7},{"p":4,"r":5,"i":26,"x":-2.2,"y":-18.6},{"p":4,"r":5,"i":27,"x":-3.4,"y":-18.8},{"p":4,"r":5,"i":28,"x":-4.2,"y":-19.6},{"p":4,"r":5,"i":29,"x":-4.2,"y":-20.8},{"p":4,"r":5,"i":30,"x":-3.5,"y":-21.6},{"p":4,"r":5,"i":31,"x":-2.5,"y":-21.8},{"p":4,"r":5,"i":32,"x":-2.2,"y":-20.8},{"p":4,"r":5,"i":33,"x":-2.5,"y":-19.6},{"p":4,"r":5,"i":34,"x":-1.9,"y":-18.5},{"p":4,"r":5,"i":35,"x":-1.4,"y":-17.3},{"p":4,"r":5,"i":36,"x":-0.8,"y":-16.6},{"p":4,"r":5,"i":37,"x":-0.1,"y":-16.2}
],
"markers": [
{"p":1,"n":1,"k":"s","x":16.7,"y":-8.0},{"p":1,"n":1,"k":"e","x":18.9,"y":4.3},{"p":1,"n":2,"k":"s","x":11.5,"y":-11.2},{"p":1,"n":2,"k":"e","x":-4.1,"y":-18.6},{"p":1,"n":3,"k":"s","x":15.5,"y":7.2},{"p":1,"n":3,"k":"e","x":6.5,"y":18.2},{"p":1,"n":4,"k":"s","x":-17.2,"y":-4.0},{"p":1,"n":4,"k":"e","x":-9.4,"y":-16.3},{"p":1,"n":5,"k":"s","x":-13.6,"y":10.6},{"p":1,"n":5,"k":"e","x":-1.7,"y":17.0},
{"p":2,"n":1,"k":"s","x":18.6,"y":3.9},{"p":2,"n":1,"k":"e","x":10.4,"y":12.0},{"p":2,"n":2,"k":"s","x":18.3,"y":-2.5},{"p":2,"n":2,"k":"e","x":11.1,"y":-11.3},{"p":2,"n":3,"k":"s","x":6.0,"y":17.8},{"p":2,"n":3,"k":"e","x":-9.1,"y":14.9},{"p":2,"n":4,"k":"s","x":-9.9,"y":-16.4},{"p":2,"n":4,"k":"e","x":0.9,"y":-17.2},{"p":2,"n":5,"k":"s","x":-14.3,"y":-4.4},{"p":2,"n":5,"k":"e","x":-14.1,"y":10.3},
{"p":3,"n":1,"k":"s","x":10.5,"y":12.4},{"p":3,"n":1,"k":"e","x":-1.7,"y":17.0},{"p":3,"n":2,"k":"s","x":15.8,"y":4.7},{"p":3,"n":2,"k":"e","x":18.1,"y":-2.3},{"p":3,"n":3,"k":"s","x":-9.1,"y":15.3},{"p":3,"n":3,"k":"e","x":-15.7,"y":3.5},{"p":3,"n":4,"k":"s","x":0.9,"y":-16.9},{"p":3,"n":4,"k":"e","x":14.4,"y":-13.5},{"p":3,"n":5,"k":"s","x":-9.7,"y":-13.2},{"p":3,"n":5,"k":"e","x":-14.5,"y":-4.2},
{"p":4,"n":1,"k":"s","x":-1.7,"y":17.0},{"p":4,"n":1,"k":"e","x":-12.5,"y":13.7},{"p":4,"n":2,"k":"s","x":7.2,"y":19.2},{"p":4,"n":2,"k":"e","x":15.9,"y":4.8},{"p":4,"n":3,"k":"s","x":-15.8,"y":3.5},{"p":4,"n":3,"k":"e","x":-14.3,"y":-11.3},{"p":4,"n":4,"k":"s","x":14.6,"y":-13.5},{"p":4,"n":4,"k":"e","x":15.5,"y":-1.5},{"p":4,"n":5,"k":"s","x":-0.1,"y":-16.2},{"p":4,"n":5,"k":"e","x":-9.5,"y":-13.1}
]
},
"vconcat": [
{"hconcat": [
{"width": 295, "height": 293, "title": "Robot Local Positions (0-25s)",
 "layer": [
  {"data": {"name": "paths"}, "transform": [{"filter": "datum.p==1"}],
   "mark": {"type": "line", "interpolate": "catmull-rom", "strokeWidth": 1.2, "clip": true},
   "encoding": {
    "x": {"field": "x", "type": "quantitative", "scale": {"domain": [-20, 25], "nice": false, "zero": false}, "axis": {"title": "X (m)", "values": [-20,-15,-10,-5,0,5,10,15,20,25]}},
    "y": {"field": "y", "type": "quantitative", "scale": {"domain": [-25, 25], "nice": false, "zero": false}, "axis": {"title": "Y (m)", "values": [-25,-20,-15,-10,-5,0,5,10,15,20,25]}},
    "color": {"field": "r", "type": "nominal", "scale": {"domain": [1,2,3,4,5], "range": ["#3c3d73","#5c8a52","#a24b42","#5db8c2","#8d4a8d"]},
     "legend": {"orient": "top-right", "title": null, "labelExpr": "'Robot ' + datum.label", "symbolSize": 144, "symbolStrokeWidth": 1, "labelFontSize": 8.5, "labelColor": "#222", "strokeColor": "#333", "fillColor": "white", "padding": 4, "rowPadding": 1, "offset": 1, "labelOffset": 13,
      "encode": {"symbols": {"update": {
        "shape": {"signal": "datum.value==1 ? 'M-1,0H2.6M0.8,-0.6L1.25,0L0.8,0.6L0.35,0Z' : datum.value==2 ? 'M-1,0H2.6M0.8,-0.55V0.55' : datum.value==3 ? 'M-1,0H2.6M0.3,0A0.5,0.5 0 1,0 1.3,0A0.5,0.5 0 1,0 0.3,0Z' : datum.value==4 ? 'M-1,0H2.6M0.42,-0.38H1.18V0.38H0.42Z' : 'M-1,0H2.6M0.8,-0.55L0.929,-0.178L1.323,-0.17L1.009,0.068L1.123,0.445L0.8,0.22L0.477,0.445L0.591,0.068L0.277,-0.17L0.671,-0.178Z'"},
        "fill": {"signal": "datum.value==2 ? 'transparent' : datum.value==5 ? '#8d4a8d' : 'black'"}}}}}},
    "order": {"field": "i", "type": "quantitative"}
   }},
  {"data": {"name": "markers"}, "transform": [{"filter": "datum.p==1 && datum.k=='s'"}],
   "mark": {"type": "point", "filled": true, "strokeWidth": 1},
   "encoding": {
    "x": {"field": "x", "type": "quantitative", "axis": null},
    "y": {"field": "y", "type": "quantitative", "axis": null},
    "fill": {"condition": [{"test": "datum.n==1", "value": "#1c2a9a"}, {"test": "datum.n==2", "value": "#55cc55"}, {"test": "datum.n==3", "value": "#c02a20"}, {"test": "datum.n==4", "value": "#8fe0e6"}], "value": "#8d2a8d"},
    "stroke": {"condition": [{"test": "datum.n==1", "value": "#1c2a9a"}, {"test": "datum.n==2", "value": "#55cc55"}, {"test": "datum.n==3", "value": "#c02a20"}, {"test": "datum.n==4", "value": "#3ab8c4"}], "value": "#8d2a8d"},
    "shape": {"condition": [{"test": "datum.n==2", "value": "M-1,0H1M0,-1V1"}, {"test": "datum.n==4", "value": "square"}, {"test": "datum.n==5", "value": "M0,-1L0.235,-0.324L0.951,-0.309L0.38,0.124L0.588,0.809L0,0.4L-0.588,0.809L-0.38,0.124L-0.951,-0.309L-0.235,-0.324Z"}], "value": "circle"},
    "size": {"condition": [{"test": "datum.n==2", "value": 40}, {"test": "datum.n==4", "value": 36}, {"test": "datum.n==5", "value": 45}], "value": 24}
   }},
  {"data": {"name": "markers"}, "transform": [{"filter": "datum.p==1 && datum.k=='e'"}],
   "mark": {"type": "point", "filled": true, "color": "black", "stroke": "#111", "strokeWidth": 1},
   "encoding": {
    "x": {"field": "x", "type": "quantitative", "axis": {"orient": "top", "labels": false, "title": null, "values": [-20,-15,-10,-5,0,5,10,15,20,25]}},
    "y": {"field": "y", "type": "quantitative", "axis": {"orient": "right", "labels": false, "title": null, "values": [-25,-20,-15,-10,-5,0,5,10,15,20,25]}},
    "shape": {"condition": [{"test": "datum.n==1", "value": "diamond"}, {"test": "datum.n==2", "value": "M-1,0H1M0,-1V1"}, {"test": "datum.n==4", "value": "square"}, {"test": "datum.n==5", "value": "M0,-1L0.235,-0.324L0.951,-0.309L0.38,0.124L0.588,0.809L0,0.4L-0.588,0.809L-0.38,0.124L-0.951,-0.309L-0.235,-0.324Z"}], "value": "circle"},
    "size": {"condition": [{"test": "datum.n==1", "value": 70}, {"test": "datum.n==2", "value": 40}, {"test": "datum.n==4", "value": 50}, {"test": "datum.n==5", "value": 45}], "value": 85}
   }}
 ],
 "resolve": {"axis": {"x": "independent", "y": "independent"}}
},
{"width": 293, "height": 293, "title": "Robot Local Positions (25-50s)",
 "layer": [
  {"data": {"name": "paths"}, "transform": [{"filter": "datum.p==2"}],
   "mark": {"type": "line", "interpolate": "catmull-rom", "strokeWidth": 1.2, "clip": true},
   "encoding": {
    "x": {"field": "x", "type": "quantitative", "scale": {"domain": [-25, 25], "nice": false, "zero": false}, "axis": {"title": "X (m)", "values": [-25,-20,-15,-10,-5,0,5,10,15,20,25]}},
    "y": {"field": "y", "type": "quantitative", "scale": {"domain": [-25, 25], "nice": false, "zero": false}, "axis": {"title": "Y (m)", "values": [-25,-20,-15,-10,-5,0,5,10,15,20,25]}},
    "color": {"field": "r", "type": "nominal", "scale": {"domain": [1,2,3,4,5], "range": ["#3c3d73","#5c8a52","#a24b42","#5db8c2","#8d4a8d"]},
     "legend": {"orient": "top-right", "title": null, "labelExpr": "'Robot ' + datum.label", "symbolSize": 144, "symbolStrokeWidth": 1, "labelFontSize": 8.5, "labelColor": "#222", "strokeColor": "#333", "fillColor": "white", "padding": 4, "rowPadding": 1, "offset": 1, "labelOffset": 13,
      "encode": {"symbols": {"update": {
        "shape": {"signal": "datum.value==1 ? 'M-1,0H2.6M0.8,-0.6L1.25,0L0.8,0.6L0.35,0Z' : datum.value==2 ? 'M-1,0H2.6M0.8,-0.55V0.55' : datum.value==3 ? 'M-1,0H2.6M0.3,0A0.5,0.5 0 1,0 1.3,0A0.5,0.5 0 1,0 0.3,0Z' : datum.value==4 ? 'M-1,0H2.6M0.42,-0.38H1.18V0.38H0.42Z' : 'M-1,0H2.6M0.8,-0.55L0.929,-0.178L1.323,-0.17L1.009,0.068L1.123,0.445L0.8,0.22L0.477,0.445L0.591,0.068L0.277,-0.17L0.671,-0.178Z'"},
        "fill": {"signal": "datum.value==2 ? 'transparent' : datum.value==5 ? '#8d4a8d' : 'black'"}}}}}},
    "order": {"field": "i", "type": "quantitative"}
   }},
  {"data": {"name": "markers"}, "transform": [{"filter": "datum.p==2 && datum.k=='s'"}],
   "mark": {"type": "point", "filled": true, "strokeWidth": 1},
   "encoding": {
    "x": {"field": "x", "type": "quantitative", "axis": null},
    "y": {"field": "y", "type": "quantitative", "axis": null},
    "fill": {"condition": [{"test": "datum.n==1", "value": "#1c2a9a"}, {"test": "datum.n==2", "value": "#55cc55"}, {"test": "datum.n==3", "value": "#c02a20"}, {"test": "datum.n==4", "value": "#8fe0e6"}], "value": "#8d2a8d"},
    "stroke": {"condition": [{"test": "datum.n==1", "value": "#1c2a9a"}, {"test": "datum.n==2", "value": "#55cc55"}, {"test": "datum.n==3", "value": "#c02a20"}, {"test": "datum.n==4", "value": "#3ab8c4"}], "value": "#8d2a8d"},
    "shape": {"condition": [{"test": "datum.n==2", "value": "M-1,0H1M0,-1V1"}, {"test": "datum.n==4", "value": "square"}, {"test": "datum.n==5", "value": "M0,-1L0.235,-0.324L0.951,-0.309L0.38,0.124L0.588,0.809L0,0.4L-0.588,0.809L-0.38,0.124L-0.951,-0.309L-0.235,-0.324Z"}], "value": "circle"},
    "size": {"condition": [{"test": "datum.n==2", "value": 40}, {"test": "datum.n==4", "value": 36}, {"test": "datum.n==5", "value": 45}], "value": 24}
   }},
  {"data": {"name": "markers"}, "transform": [{"filter": "datum.p==2 && datum.k=='e'"}],
   "mark": {"type": "point", "filled": true, "color": "black", "stroke": "#111", "strokeWidth": 1},
   "encoding": {
    "x": {"field": "x", "type": "quantitative", "axis": {"orient": "top", "labels": false, "title": null, "values": [-25,-20,-15,-10,-5,0,5,10,15,20,25]}},
    "y": {"field": "y", "type": "quantitative", "axis": {"orient": "right", "labels": false, "title": null, "values": [-25,-20,-15,-10,-5,0,5,10,15,20,25]}},
    "shape": {"condition": [{"test": "datum.n==1", "value": "diamond"}, {"test": "datum.n==2", "value": "M-1,0H1M0,-1V1"}, {"test": "datum.n==4", "value": "square"}, {"test": "datum.n==5", "value": "M0,-1L0.235,-0.324L0.951,-0.309L0.38,0.124L0.588,0.809L0,0.4L-0.588,0.809L-0.38,0.124L-0.951,-0.309L-0.235,-0.324Z"}], "value": "circle"},
    "size": {"condition": [{"test": "datum.n==1", "value": 70}, {"test": "datum.n==2", "value": 40}, {"test": "datum.n==4", "value": 50}, {"test": "datum.n==5", "value": 25}], "value": 85}
   }}
 ],
 "resolve": {"axis": {"x": "independent", "y": "independent"}}
}
], "spacing": 9, "resolve": {"scale": {"x": "independent", "y": "independent", "color": "independent"}}},
{"hconcat": [
{"width": 294, "height": 293, "title": "Robot Local Positions (50-75s)",
 "layer": [
  {"data": {"name": "paths"}, "transform": [{"filter": "datum.p==3"}],
   "mark": {"type": "line", "interpolate": "catmull-rom", "strokeWidth": 1.2, "clip": true},
   "encoding": {
    "x": {"field": "x", "type": "quantitative", "scale": {"domain": [-25, 25], "nice": false, "zero": false}, "axis": {"title": "X (m)", "values": [-25,-20,-15,-10,-5,0,5,10,15,20,25]}},
    "y": {"field": "y", "type": "quantitative", "scale": {"domain": [-25, 25], "nice": false, "zero": false}, "axis": {"title": "Y (m)", "values": [-25,-20,-15,-10,-5,0,5,10,15,20,25]}},
    "color": {"field": "r", "type": "nominal", "scale": {"domain": [1,2,3,4,5], "range": ["#3c3d73","#5c8a52","#a24b42","#5db8c2","#8d4a8d"]},
     "legend": {"orient": "top-right", "title": null, "labelExpr": "'Robot ' + datum.label", "symbolSize": 144, "symbolStrokeWidth": 1, "labelFontSize": 8.5, "labelColor": "#222", "strokeColor": "#333", "fillColor": "white", "padding": 4, "rowPadding": 1, "offset": 1, "labelOffset": 13,
      "encode": {"symbols": {"update": {
        "shape": {"signal": "datum.value==1 ? 'M-1,0H2.6M0.8,-0.6L1.25,0L0.8,0.6L0.35,0Z' : datum.value==2 ? 'M-1,0H2.6M0.8,-0.55V0.55' : datum.value==3 ? 'M-1,0H2.6M0.3,0A0.5,0.5 0 1,0 1.3,0A0.5,0.5 0 1,0 0.3,0Z' : datum.value==4 ? 'M-1,0H2.6M0.42,-0.38H1.18V0.38H0.42Z' : 'M-1,0H2.6M0.8,-0.55L0.929,-0.178L1.323,-0.17L1.009,0.068L1.123,0.445L0.8,0.22L0.477,0.445L0.591,0.068L0.277,-0.17L0.671,-0.178Z'"},
        "fill": {"signal": "datum.value==2 ? 'transparent' : datum.value==5 ? '#8d4a8d' : 'black'"}}}}}},
    "order": {"field": "i", "type": "quantitative"}
   }},
  {"data": {"name": "markers"}, "transform": [{"filter": "datum.p==3 && datum.k=='s'"}],
   "mark": {"type": "point", "filled": true, "strokeWidth": 1},
   "encoding": {
    "x": {"field": "x", "type": "quantitative", "axis": null},
    "y": {"field": "y", "type": "quantitative", "axis": null},
    "fill": {"condition": [{"test": "datum.n==1", "value": "#1c2a9a"}, {"test": "datum.n==2", "value": "#55cc55"}, {"test": "datum.n==3", "value": "#c02a20"}, {"test": "datum.n==4", "value": "#8fe0e6"}], "value": "#8d2a8d"},
    "stroke": {"condition": [{"test": "datum.n==1", "value": "#1c2a9a"}, {"test": "datum.n==2", "value": "#55cc55"}, {"test": "datum.n==3", "value": "#c02a20"}, {"test": "datum.n==4", "value": "#3ab8c4"}], "value": "#8d2a8d"},
    "shape": {"condition": [{"test": "datum.n==2", "value": "M-1,0H1M0,-1V1"}, {"test": "datum.n==4", "value": "square"}, {"test": "datum.n==5", "value": "M0,-1L0.235,-0.324L0.951,-0.309L0.38,0.124L0.588,0.809L0,0.4L-0.588,0.809L-0.38,0.124L-0.951,-0.309L-0.235,-0.324Z"}], "value": "circle"},
    "size": {"condition": [{"test": "datum.n==2", "value": 40}, {"test": "datum.n==4", "value": 36}, {"test": "datum.n==5", "value": 45}], "value": 24}
   }},
  {"data": {"name": "markers"}, "transform": [{"filter": "datum.p==3 && datum.k=='e'"}],
   "mark": {"type": "point", "filled": true, "color": "black", "stroke": "#111", "strokeWidth": 1},
   "encoding": {
    "x": {"field": "x", "type": "quantitative", "axis": {"orient": "top", "labels": false, "title": null, "values": [-25,-20,-15,-10,-5,0,5,10,15,20,25]}},
    "y": {"field": "y", "type": "quantitative", "axis": {"orient": "right", "labels": false, "title": null, "values": [-25,-20,-15,-10,-5,0,5,10,15,20,25]}},
    "shape": {"condition": [{"test": "datum.n==1", "value": "diamond"}, {"test": "datum.n==2", "value": "M-1,0H1M0,-1V1"}, {"test": "datum.n==4", "value": "square"}, {"test": "datum.n==5", "value": "M0,-1L0.235,-0.324L0.951,-0.309L0.38,0.124L0.588,0.809L0,0.4L-0.588,0.809L-0.38,0.124L-0.951,-0.309L-0.235,-0.324Z"}], "value": "circle"},
    "size": {"condition": [{"test": "datum.n==1", "value": 70}, {"test": "datum.n==2", "value": 40}, {"test": "datum.n==4", "value": 50}, {"test": "datum.n==5", "value": 25}], "value": 85}
   }}
 ],
 "resolve": {"axis": {"x": "independent", "y": "independent"}}
},
{"width": 293, "height": 293, "title": "Robot Local Positions (75-100s)",
 "layer": [
  {"data": {"name": "paths"}, "transform": [{"filter": "datum.p==4"}],
   "mark": {"type": "line", "interpolate": "catmull-rom", "strokeWidth": 1.2, "clip": true},
   "encoding": {
    "x": {"field": "x", "type": "quantitative", "scale": {"domain": [-25, 25], "nice": false, "zero": false}, "axis": {"title": "X (m)", "values": [-25,-20,-15,-10,-5,0,5,10,15,20,25]}},
    "y": {"field": "y", "type": "quantitative", "scale": {"domain": [-25, 25], "nice": false, "zero": false}, "axis": {"title": "Y (m)", "values": [-25,-20,-15,-10,-5,0,5,10,15,20,25]}},
    "color": {"field": "r", "type": "nominal", "scale": {"domain": [1,2,3,4,5], "range": ["#3c3d73","#5c8a52","#a24b42","#5db8c2","#8d4a8d"]},
     "legend": {"orient": "top-right", "title": null, "labelExpr": "'Robot ' + datum.label", "symbolSize": 144, "symbolStrokeWidth": 1, "labelFontSize": 8.5, "labelColor": "#222", "strokeColor": "#333", "fillColor": "white", "padding": 4, "rowPadding": 1, "offset": 1, "labelOffset": 13,
      "encode": {"symbols": {"update": {
        "shape": {"signal": "datum.value==1 ? 'M-1,0H2.6M0.8,-0.6L1.25,0L0.8,0.6L0.35,0Z' : datum.value==2 ? 'M-1,0H2.6M0.8,-0.55V0.55' : datum.value==3 ? 'M-1,0H2.6M0.3,0A0.5,0.5 0 1,0 1.3,0A0.5,0.5 0 1,0 0.3,0Z' : datum.value==4 ? 'M-1,0H2.6M0.42,-0.38H1.18V0.38H0.42Z' : 'M-1,0H2.6M0.8,-0.55L0.929,-0.178L1.323,-0.17L1.009,0.068L1.123,0.445L0.8,0.22L0.477,0.445L0.591,0.068L0.277,-0.17L0.671,-0.178Z'"},
        "fill": {"signal": "datum.value==2 ? 'transparent' : datum.value==5 ? '#8d4a8d' : 'black'"}}}}}},
    "order": {"field": "i", "type": "quantitative"}
   }},
  {"data": {"name": "markers"}, "transform": [{"filter": "datum.p==4 && datum.k=='s'"}],
   "mark": {"type": "point", "filled": true, "strokeWidth": 1},
   "encoding": {
    "x": {"field": "x", "type": "quantitative", "axis": null},
    "y": {"field": "y", "type": "quantitative", "axis": null},
    "fill": {"condition": [{"test": "datum.n==1", "value": "#1c2a9a"}, {"test": "datum.n==2", "value": "#55cc55"}, {"test": "datum.n==3", "value": "#c02a20"}, {"test": "datum.n==4", "value": "#8fe0e6"}], "value": "#8d2a8d"},
    "stroke": {"condition": [{"test": "datum.n==1", "value": "#1c2a9a"}, {"test": "datum.n==2", "value": "#55cc55"}, {"test": "datum.n==3", "value": "#c02a20"}, {"test": "datum.n==4", "value": "#3ab8c4"}], "value": "#8d2a8d"},
    "shape": {"condition": [{"test": "datum.n==2", "value": "M-1,0H1M0,-1V1"}, {"test": "datum.n==4", "value": "square"}, {"test": "datum.n==5", "value": "M0,-1L0.235,-0.324L0.951,-0.309L0.38,0.124L0.588,0.809L0,0.4L-0.588,0.809L-0.38,0.124L-0.951,-0.309L-0.235,-0.324Z"}], "value": "circle"},
    "size": {"condition": [{"test": "datum.n==2", "value": 40}, {"test": "datum.n==4", "value": 36}, {"test": "datum.n==5", "value": 45}], "value": 24}
   }},
  {"data": {"name": "markers"}, "transform": [{"filter": "datum.p==4 && datum.k=='e'"}],
   "mark": {"type": "point", "filled": true, "color": "black", "stroke": "#111", "strokeWidth": 1},
   "encoding": {
    "x": {"field": "x", "type": "quantitative", "axis": {"orient": "top", "labels": false, "title": null, "values": [-25,-20,-15,-10,-5,0,5,10,15,20,25]}},
    "y": {"field": "y", "type": "quantitative", "axis": {"orient": "right", "labels": false, "title": null, "values": [-25,-20,-15,-10,-5,0,5,10,15,20,25]}},
    "shape": {"condition": [{"test": "datum.n==1", "value": "diamond"}, {"test": "datum.n==2", "value": "M-1,0H1M0,-1V1"}, {"test": "datum.n==4", "value": "square"}, {"test": "datum.n==5", "value": "M0,-1L0.235,-0.324L0.951,-0.309L0.38,0.124L0.588,0.809L0,0.4L-0.588,0.809L-0.38,0.124L-0.951,-0.309L-0.235,-0.324Z"}], "value": "circle"},
    "size": {"condition": [{"test": "datum.n==1", "value": 70}, {"test": "datum.n==2", "value": 40}, {"test": "datum.n==4", "value": 50}, {"test": "datum.n==5", "value": 25}], "value": 85}
   }}
 ],
 "resolve": {"axis": {"x": "independent", "y": "independent"}}
}
], "spacing": 9, "resolve": {"scale": {"x": "independent", "y": "independent", "color": "independent"}}}
],
"spacing": 2,
"resolve": {"scale": {"x": "independent", "y": "independent", "color": "independent"}},
"config": {
 "font": "Liberation Sans",
 "view": {"stroke": "#777", "strokeWidth": 1.8},
 "axis": {"grid": false, "domain": false, "labelFontSize": 8, "labelColor": "#333", "titleFontSize": 8, "titleFontWeight": "normal", "titleColor": "#333", "tickColor": "#555", "tickSize": -3, "labelPadding": 4, "titlePadding": 1},
 "title": {"fontSize": 8, "fontWeight": "normal", "color": "#333", "offset": 3},
 "point": {"opacity": 1}
}
}
